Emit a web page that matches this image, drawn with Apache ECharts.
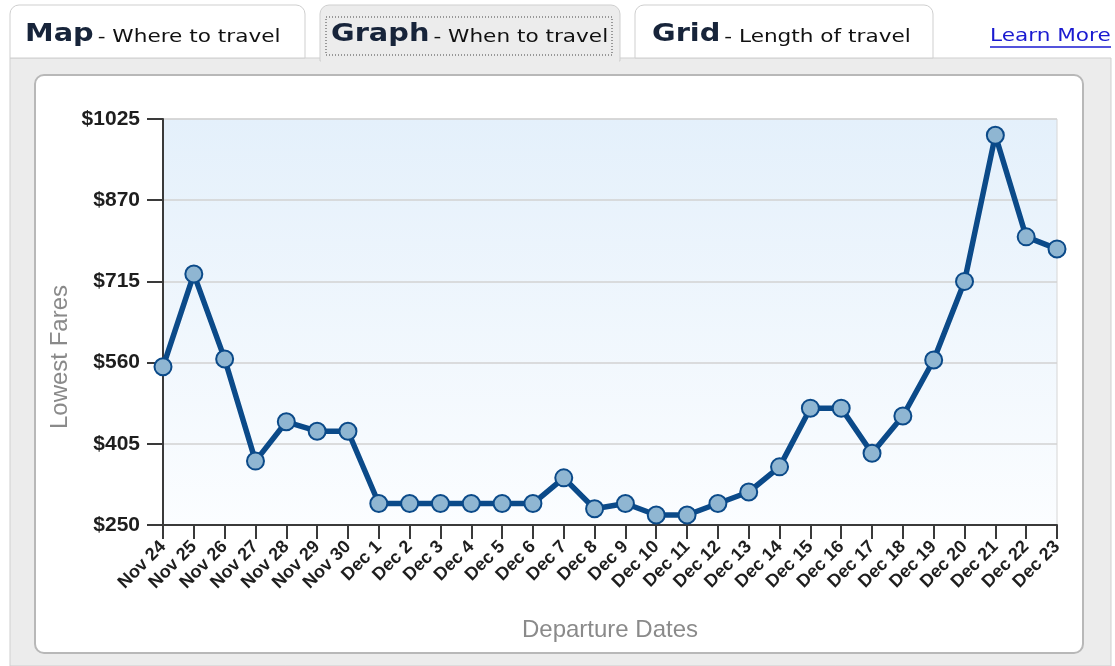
<!DOCTYPE html>
<html>
<head>
<meta charset="utf-8">
<title>Lowest Fares - When to travel</title>
<script src="https://cdn.jsdelivr.net/npm/echarts@6/dist/echarts.min.js"></script>
<style>
  html, body { margin: 0; padding: 0; background: #fff; }
  #myChart { width: 1115px; height: 666px; }
</style>
</head>
<body>
<div id="myChart"></div>
<script>
// departure dates on the x axis
var dates = ['Nov 24', 'Nov 25', 'Nov 26', 'Nov 27', 'Nov 28', 'Nov 29', 'Nov 30',
  'Dec 1', 'Dec 2', 'Dec 3', 'Dec 4', 'Dec 5', 'Dec 6', 'Dec 7', 'Dec 8', 'Dec 9',
  'Dec 10', 'Dec 11', 'Dec 12', 'Dec 13', 'Dec 14', 'Dec 15', 'Dec 16', 'Dec 17',
  'Dec 18', 'Dec 19', 'Dec 20', 'Dec 21', 'Dec 22', 'Dec 23'];
// lowest fare for each date
var fares = [552, 729, 567, 372, 447, 429, 429,
  291, 291, 291, 291, 291, 291, 340, 281, 291,
  269, 269, 291, 313, 361, 473, 473, 387,
  458, 565, 715, 994, 800, 777];
// y axis ticks
var fareMin = 250;
var fareMax = 1025;
var fareStep = 155;

var tabFont = '"DejaVu Sans", Verdana, sans-serif';
var axisFont = '"Liberation Sans", Arial, sans-serif';

// text styles shared by the three tabs
var tabRich = {
  b: { fontFamily: tabFont, fontWeight: 'bold', fontSize: 24, fill: '#17243a' },
  s: { fontFamily: tabFont, fontSize: 18, fill: '#111', padding: [5, 0, 0, 0] }
};

var option = {
  animation: false,
  backgroundColor: '#fff',
  graphic: [
    // grey page behind the chart panel
    { type: 'rect', z: -20, shape: { x: 10, y: 58, width: 1101, height: 608 },
      style: { fill: '#ececec', stroke: '#cfcfcf', lineWidth: 1 } },
    // tabs
    { type: 'rect', z: -15, shape: { x: 10, y: 5, width: 295, height: 53, r: [9, 9, 0, 0] },
      style: { fill: '#fff', stroke: '#cfcfcf', lineWidth: 1 } },
    { type: 'rect', z: -15, shape: { x: 320, y: 5, width: 300, height: 56, r: [9, 9, 0, 0] },
      style: { fill: '#ececec', stroke: '#cfcfcf', lineWidth: 1 } },
    { type: 'rect', z: -14, shape: { x: 321, y: 58, width: 298, height: 6 },
      style: { fill: '#ececec' } },
    { type: 'rect', z: -15, shape: { x: 635, y: 5, width: 298, height: 53, r: [9, 9, 0, 0] },
      style: { fill: '#fff', stroke: '#cfcfcf', lineWidth: 1 } },
    // focus box on the selected tab
    { type: 'rect', z: -13, shape: { x: 326, y: 17, width: 286, height: 38 },
      style: { fill: 'none', stroke: '#444', lineWidth: 1, lineDash: [1, 2] } },
    { type: 'text', z: -10, x: 25, y: 23, scaleX: 1.2,
      style: { text: '{b|Map} {s|- Where to travel}', rich: tabRich } },
    { type: 'text', z: -10, x: 331, y: 23, scaleX: 1.2,
      style: { text: '{b|Graph} {s|- When to travel}', rich: tabRich } },
    { type: 'text', z: -10, x: 652, y: 23, scaleX: 1.2,
      style: { text: '{b|Grid} {s|- Length of travel}', rich: tabRich } },
    { type: 'text', z: -10, x: 990, y: 27, scaleX: 1.2,
      style: { text: 'Learn More', fontFamily: tabFont, fontSize: 18, fill: '#1a1ad0' } },
    { type: 'line', z: -10, shape: { x1: 990, y1: 47, x2: 1111, y2: 47 },
      style: { stroke: '#1a1ad0', lineWidth: 1.5 } },
    // white panel holding the chart
    { type: 'rect', z: -12, shape: { x: 35, y: 75, width: 1048, height: 578, r: 9 },
      style: { fill: '#fff', stroke: '#b8b8b8', lineWidth: 2 } },
    // y axis title, sits a little below the middle of the axis
    { type: 'text', z: 5, x: 60, y: 357, rotation: Math.PI / 2,
      style: { text: 'Lowest Fares', fontFamily: axisFont, fontSize: 24, fill: '#8a8a8a',
        align: 'center', verticalAlign: 'middle' } }
  ],
  grid: {
    left: 163,
    right: 58,
    top: 119,
    bottom: 141,
    show: true,
    borderColor: '#d6d6d6',
    borderWidth: 1,
    backgroundColor: new echarts.graphic.LinearGradient(0, 0, 0, 1, [
      { offset: 0, color: '#e4f0fb' },
      { offset: 1, color: '#fbfdff' }
    ])
  },
  xAxis: {
    type: 'category',
    data: dates,
    boundaryGap: false,
    name: 'Departure Dates',
    nameLocation: 'middle',
    nameGap: 93,
    nameTextStyle: { fontFamily: axisFont, fontSize: 24, color: '#8a8a8a' },
    axisLine: { lineStyle: { color: '#3a3a3a', width: 2 } },
    axisTick: { alignWithLabel: true, length: 14, lineStyle: { color: '#3a3a3a', width: 2 } },
    axisLabel: {
      interval: 0,
      rotate: 45,
      margin: 19,
      fontFamily: axisFont,
      fontWeight: 'bold',
      fontSize: 18,
      color: '#1e1e1e'
    },
    splitLine: { show: false }
  },
  yAxis: {
    type: 'value',
    min: fareMin,
    max: fareMax,
    interval: fareStep,
    axisLine: { show: true, lineStyle: { color: '#3a3a3a', width: 2 } },
    axisTick: { show: true, length: 16, lineStyle: { color: '#3a3a3a', width: 2 } },
    axisLabel: {
      margin: 23,
      fontFamily: axisFont,
      fontWeight: 'bold',
      fontSize: 21,
      color: '#1e1e1e',
      formatter: function (v) { return '$' + v; }
    },
    splitLine: { lineStyle: { color: '#d2d2d2', width: 1.5 } }
  },
  series: [{
    type: 'line',
    data: fares,
    symbol: 'circle',
    symbolSize: 17,
    lineStyle: { color: '#0b4a89', width: 5.5 },
    itemStyle: { color: '#8fb6d2', borderColor: '#0b4a89', borderWidth: 2 }
  }]
};

var chartBox = document.getElementById('myChart');
var myChart = echarts.init(chartBox);
myChart.setOption(option);
</script>
</body>
</html>
